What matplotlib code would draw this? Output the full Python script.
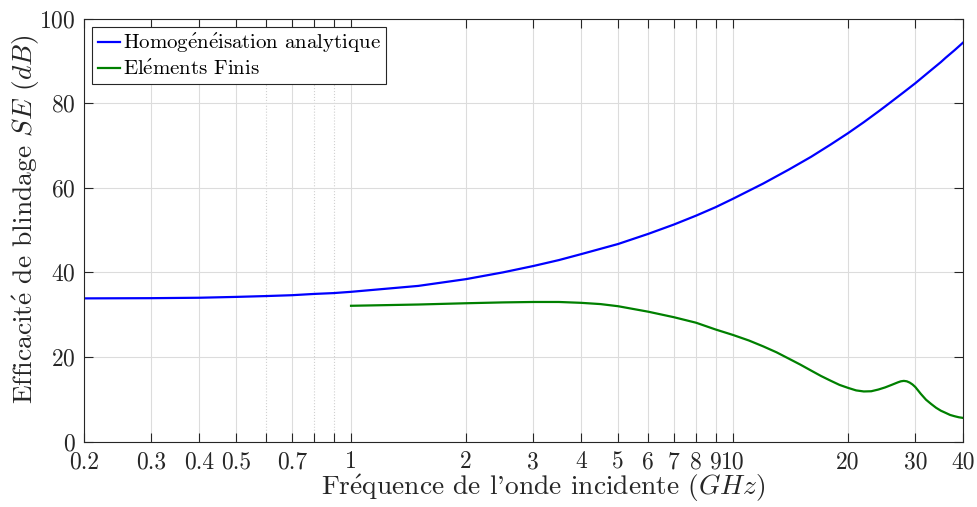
import matplotlib
matplotlib.use('Agg')
import matplotlib.pyplot as plt
from matplotlib.ticker import FixedLocator, FixedFormatter, NullFormatter

plt.rcParams['font.family'] = ['cmr10', 'DejaVu Serif']
plt.rcParams['mathtext.fontset'] = 'cm'
plt.rcParams['axes.formatter.use_mathtext'] = True

# frequences (GHz) et efficacite de blindage (dB)
freq_homog = [0.2, 0.3, 0.4, 0.5, 0.6, 0.7, 0.8, 0.9, 1, 1.5, 2, 2.5, 3, 3.5, 4, 5, 6, 7, 8, 9, 10,
              12, 14, 16, 18, 20, 22, 24, 25, 28, 30, 33, 35, 36, 38, 40]
se_homog = [33.85, 33.9, 34.0, 34.2, 34.4, 34.6, 34.9, 35.1, 35.4, 36.8, 38.4, 40.0, 41.5, 42.9,
            44.3, 46.7, 49.1, 51.3, 53.4, 55.4, 57.4, 61.0, 64.3, 67.3, 70.2, 72.9, 75.5, 78.0,
            79.2, 82.6, 84.7, 87.8, 89.7, 90.7, 92.5, 94.3]

freq_ef = [1, 1.5, 2, 2.5, 3, 3.5, 4, 4.5, 5, 6, 7, 8, 9, 10, 11, 12, 13, 14, 15, 16, 17, 18, 19,
           20, 21, 22, 23, 24, 25, 26, 27, 27.5, 28, 28.5, 29, 29.5, 30, 30.5, 31, 32, 33, 34, 35,
           36, 37, 38, 39, 40]
se_ef = [32.1, 32.4, 32.7, 32.9, 33.0, 33.0, 32.8, 32.5, 32.0, 30.7, 29.4, 28.1, 26.5, 25.2,
         23.9, 22.5, 21.1, 19.6, 18.2, 16.8, 15.5, 14.4, 13.4, 12.7, 12.1, 11.85, 11.9, 12.3,
         12.8, 13.4, 14.0, 14.25, 14.35, 14.25, 13.95, 13.5, 12.9, 12.1, 11.3, 9.9, 8.9, 8.0, 7.3,
         6.8, 6.3, 6.0, 5.75, 5.6]

xticks = [0.2, 0.3, 0.4, 0.5, 0.7, 1, 2, 3, 4, 5, 6, 7, 8, 9, 10, 20, 30, 40]
xticklabels = ['0.2', '0.3', '0.4', '0.5', '0.7', '1', '2', '3', '4', '5', '6', '7', '8', '9', '10',
               '20', '30', '40']
xminor = [0.6, 0.8, 0.9]

fig = plt.figure(figsize=(9.77, 5.07), dpi=100)
ax = fig.add_axes([0.086, 0.129, 0.8997, 0.8345])

ax.plot(freq_homog, se_homog, color='#0000ff', linewidth=1.6,
        label=r'Homog$\mathrm{\acute{e}}$n$\mathrm{\acute{e}}$isation analytique')
ax.plot(freq_ef, se_ef, color='#008000', linewidth=1.6,
        label=r'El$\mathrm{\acute{e}}$ments Finis')

ax.set_xscale('log')
ax.set_xlim(0.2, 40)
ax.set_ylim(0, 100)
ax.xaxis.set_major_locator(FixedLocator(xticks))
ax.xaxis.set_major_formatter(FixedFormatter(xticklabels))
ax.xaxis.set_minor_locator(FixedLocator(xminor))
ax.xaxis.set_minor_formatter(NullFormatter())
ax.set_yticks([0, 20, 40, 60, 80, 100])

ax.grid(True, which='major', color='#dcdcdc', linewidth=0.8)
ax.grid(True, which='minor', axis='x', color='#d0d0d0', linewidth=0.8, linestyle=':')
ax.set_axisbelow(True)

ax.tick_params(which='both', direction='in', top=True, right=True, length=6.5, width=0.8,
               colors='#262626', labelsize=17)
ax.tick_params(axis='x', pad=7)
ax.tick_params(axis='y', pad=6)
for s in ax.spines.values():
    s.set_color('#262626')
    s.set_linewidth(0.8)

ax.set_xlabel(r"Fr$\mathrm{\acute{e}}$quence de l'onde incidente $(GHz)$", fontsize=19.8,
              color='#262626')
ax.xaxis.set_label_coords(0.523, -0.073)
ax.set_ylabel(r"Efficacit$\mathrm{\acute{e}}$ de blindage $SE$ $(dB)$", fontsize=19.8,
              color='#262626')
ax.yaxis.set_label_coords(-0.048, 0.526)

leg = ax.legend(loc='upper left', fontsize=15, handlelength=1.1, handletextpad=0.1,
                borderpad=0.25, labelspacing=0.2, fancybox=False, framealpha=1,
                edgecolor='#262626', borderaxespad=0.4)
leg.get_frame().set_linewidth(0.8)

fig.savefig('out.png', dpi=100)
